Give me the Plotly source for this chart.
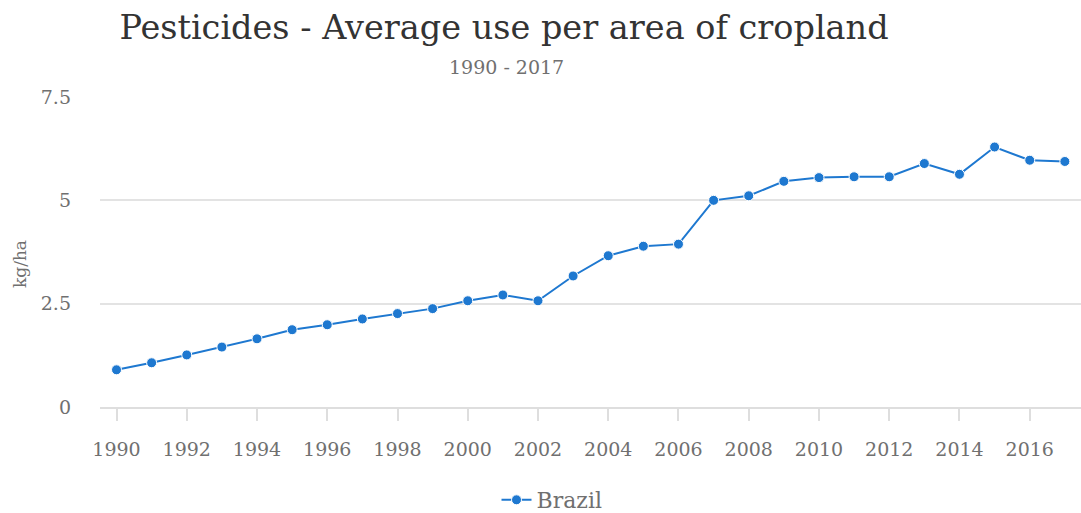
import plotly.graph_objects as go

years = list(range(1990, 2018))
brazil = [0.90, 1.07, 1.26, 1.45, 1.65, 1.87, 1.99, 2.13, 2.26, 2.38,
          2.57, 2.71, 2.57, 3.17, 3.66, 3.89, 3.94, 5.00, 5.11, 5.46,
          5.55, 5.57, 5.57, 5.89, 5.63, 6.29, 5.97, 5.94]
y_ticks = [0, 2.5, 5, 7.5]
y_tick_labels = ["0", "2.5", "5", "7.5"]
x_ticks = list(range(1990, 2018, 2))

FONT = "DejaVu Serif"
BLUE = "#1e78d0"
GREY = "#707070"

fig = go.Figure()
fig.add_trace(go.Scatter(
    x=years, y=brazil, mode="lines+markers", name="Brazil",
    line=dict(color=BLUE, width=2),
    marker=dict(color=BLUE, size=10, line=dict(color="white", width=1)),
))

fig.update_layout(
    width=1081, height=513,
    margin=dict(l=100, r=0, t=97, b=106),
    paper_bgcolor="white", plot_bgcolor="white",
    font=dict(family=FONT, color=GREY, size=19),
    title=dict(text="Pesticides - Average use per area of cropland",
               font=dict(family=FONT, size=33.5, color="#333333"),
               x=504/1081, xanchor="center", xref="container",
               y=1 - 27/513, yanchor="middle", yref="container"),
    annotations=[
        dict(text="1990 - 2017", xref="paper", yref="paper",
             x=(506-100)/981, y=(407-67)/310, xanchor="center", yanchor="middle",
             showarrow=False, font=dict(family=FONT, size=19, color=GREY)),
        dict(text="kg/ha", xref="paper", yref="paper", textangle=-90,
             x=(20-100)/981, y=(407-264)/310, xanchor="center", yanchor="middle",
             showarrow=False, font=dict(family=FONT, size=17, color=GREY)),
    ],
    xaxis=dict(range=[1989.53, 2017.46], tickvals=x_ticks, showgrid=False,
               showline=True, linecolor="#dedede", linewidth=2,
               ticks="outside", ticklen=12, tickcolor="#dedede", tickwidth=2,
               ticklabelstandoff=12,
               zeroline=False, tickfont=dict(size=19, color=GREY)),
    yaxis=dict(range=[0, 7.5], tickvals=y_ticks, ticktext=y_tick_labels,
               showgrid=True, gridcolor="#e3e3e3", gridwidth=1.5,
               zeroline=False, showline=False, ticklabelstandoff=28,
               tickfont=dict(size=19, color=GREY)),
    showlegend=True,
    legend=dict(orientation="h", xref="container", yref="container",
                x=552/1081, xanchor="center", y=1 - 500/513, yanchor="middle",
                font=dict(size=22, color=GREY)),
)

fig.write_html("out.html")
